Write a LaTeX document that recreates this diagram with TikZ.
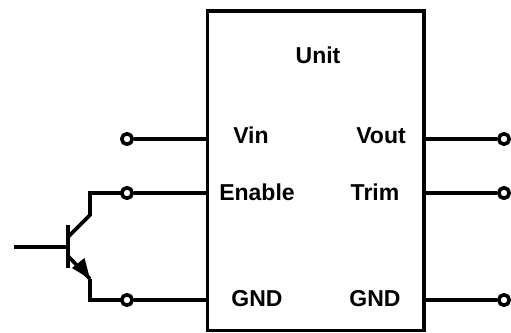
\documentclass[tikz,border=0pt]{standalone}
\usepackage{fontspec}
\setmainfont{Liberation Sans}
\usetikzlibrary{arrows.meta}
\tikzset{
  wire/.style={line width=3.6pt,line cap=butt,line join=miter},
  pin/.style={circle,draw,line width=3.6pt,fill=white,minimum size=10.5pt,inner sep=0pt},
  lab/.style={anchor=base,inner sep=0pt,font=\fontsize{23}{26}\selectfont\bfseries},
  chip/.style={rectangle,draw,line width=3.8pt,minimum width=216.5pt,minimum height=319.5pt,inner sep=0pt}
}
\begin{document}
\begin{tikzpicture}[x=1pt,y=-1pt]
\useasboundingbox (0,0) rectangle (511,332);
\node[chip] (box) at (315.75,170.75) {};
\node[lab] (unit) at (318,63.3) {Unit};
\node[lab] (vin) at (251,143.3) {Vin};
\node[lab] (vout) at (381,143.3) {Vout};
\node[lab] (enable) at (257,200) {Enable};
\node[lab] (trim) at (375,200) {Trim};
\node[lab] (gndl) at (257,306.7) {GND};
\node[lab] (gndr) at (375,306.7) {GND};
\coordinate (lvin) at (box.west |- 0,139);
\coordinate (len) at (box.west |- 0,193);
\coordinate (lgnd) at (box.west |- 0,300);
\coordinate (rvout) at (box.east |- 0,139);
\coordinate (rtrim) at (box.east |- 0,193);
\coordinate (rgnd) at (box.east |- 0,300);
\coordinate (bl) at (14,246.7);
\coordinate (bb) at (68,246.7);
\coordinate (bt) at (68,225);
\coordinate (bd) at (68,268);
\coordinate (c1) at (68,237);
\coordinate (c2) at (90,215);
\coordinate (c3) at (90,193);
\coordinate (e1) at (68,256);
\coordinate (e2) at (90,279);
\coordinate (e3) at (90,300);
\draw[wire] (bl) -- (bb);
\draw[wire,line width=4pt] (bt) -- (bd);
\draw[wire] (c1) -- (c2) -- (c3) -- (127,193);
\draw[wire] (e1) -- (e2);
\fill (e2) -- (84.5,258) -- (72,268) -- cycle;
\draw[wire] (e2) -- (e3) -- (127,300);
\node[pin] (p1) at (127,139) {};
\node[pin] (p2) at (127,193) {};
\node[pin] (p3) at (127,300) {};
\node[pin] (p4) at (504,139) {};
\node[pin] (p5) at (504,193) {};
\node[pin] (p6) at (504,300) {};
\draw[wire] (p1) -- (lvin);
\draw[wire] (p2) -- (len);
\draw[wire] (p3) -- (lgnd);
\draw[wire] (p4) -- (rvout);
\draw[wire] (p5) -- (rtrim);
\draw[wire] (p6) -- (rgnd);
\end{tikzpicture}
\end{document}
